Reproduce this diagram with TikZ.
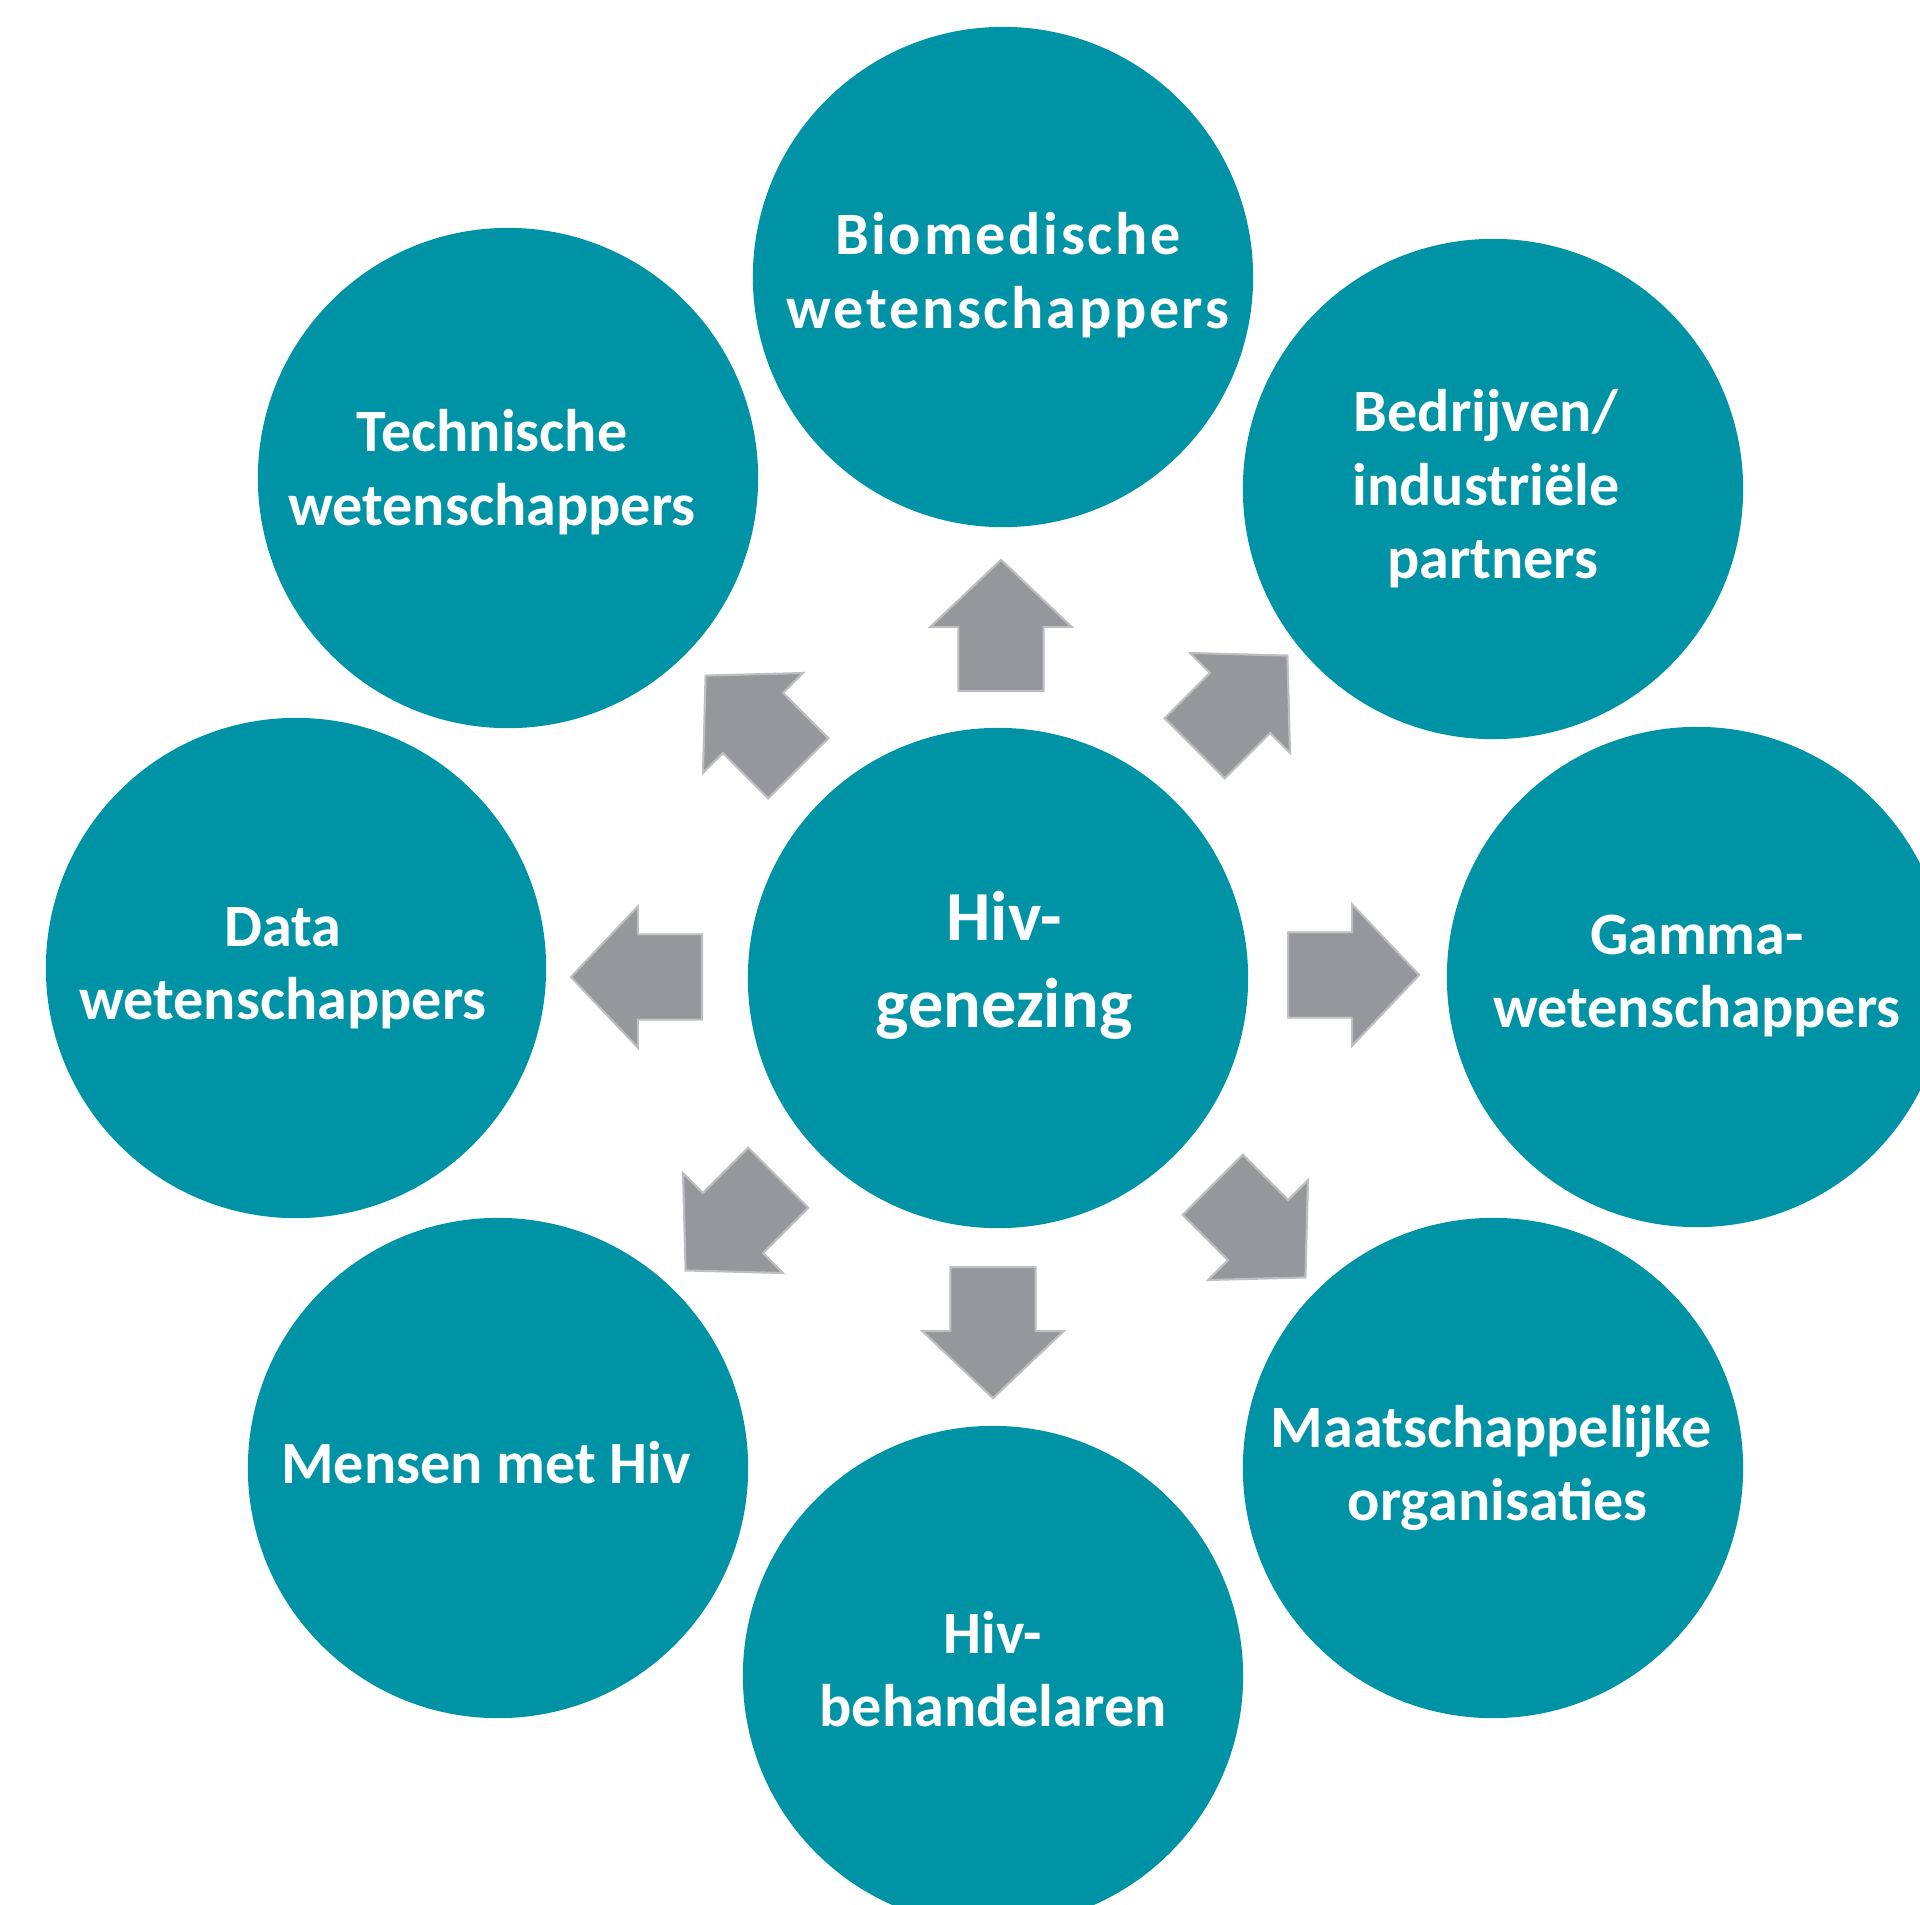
\documentclass[tikz,border=0pt]{standalone}
\usepackage{fontspec}
\setmainfont{Carlito}
\usepackage{tikz}
\usetikzlibrary{arrows.meta,calc,positioning,shapes,arrows}
\definecolor{tealgroup}{HTML}{0093A5}
\definecolor{arrowfill}{HTML}{96979B}
\definecolor{arrowedge}{HTML}{BDBEC1}

\begin{document}
\begin{tikzpicture}[
		x=0.01cm, y=-0.01cm,
		group/.style={circle, fill=tealgroup, minimum size=5cm, inner sep=0pt},
		lbl/.style={align=center, inner sep=0pt, text=white,
			font=\fontsize{17.1}{20.9}\selectfont\bfseries},
		hublbl/.style={lbl, font=\fontsize{20}{24.7}\selectfont\bfseries},
		blockarr/.style={single arrow, fill=arrowfill, draw=arrowedge, line width=0.6pt,
			minimum height=1.31cm, inner xsep=0pt, inner ysep=0.415cm,
			single arrow head extend=0.28cm, single arrow tip angle=93, anchor=tail}
		]

		\useasboundingbox (0,0) rectangle (1920,1905);
		\clip (0,0) rectangle (1920,1905);

		% --- Cirkels ---
		\node[group] (hiv) at (998, 978) {};
		\node[group] (bio) at (1003, 277) {};
		\node[group] (tech) at (508, 478) {};
		\node[group] (bedr) at (1493, 489) {};
		\node[group] (data) at (296, 968) {};
		\node[group] (gamma) at (1697, 977) {};
		\node[group] (mensen) at (498, 1468) {};
		\node[group] (maat) at (1493, 1468) {};
		\node[group] (behan) at (993, 1676) {};

		% --- Teksten ---
		\node[hublbl] (hivtxt) at ($(hiv)+(6,-13)$) {Hiv-\\genezing};
		\node[lbl] (biotxt) at ($(bio)+(5,-2)$) {\addfontfeatures{LetterSpace=4.5}Biomedische\\\addfontfeatures{LetterSpace=4.5}wetenschappers};
		\node[lbl] (techtxt) at ($(tech)+(-16,-6)$) {Technische\\wetenschappers};
		\node[lbl] (bedrtxt) at ($(bedr)+(-7,0)$) {Bedrijven/\\industriële\\\ partners};
		\node[lbl] (datatxt) at ($(data)+(-13,0)$) {Data\ \\wetenschappers};
		\node[lbl] (gammatxt) at ($(gamma)+(0,-1)$) {Gamma-\\wetenschappers};
		\node[lbl] (mensentxt) at ($(mensen)+(-12,-5)$) {Mensen met Hiv};
		\node[lbl] (maattxt) at ($(maat)+(-2,0)$) {Maatschappelijke\\\ organisaties};
		\node[lbl] (behantxt) at ($(behan)+(0,-7)$) {Hiv-\\behandelaren};

		% --- Pijlen ---
		\node[blockarr, rotate=90] (aN) at (1001, 692) {};
		\node[blockarr, rotate=45] (aNE) at (1194, 749) {};
		\node[blockarr] (aE) at (1287, 975) {};
		\node[blockarr, rotate=-45] (aSE) at (1212, 1184) {};
		\node[blockarr, rotate=-90] (aS) at (993, 1266) {};
		\node[blockarr, rotate=-135] (aSW) at (779, 1177) {};
		\node[blockarr, rotate=180] (aW) at (703, 977) {};
		\node[blockarr, rotate=135] (aNW) at (799, 769) {};

	\end{tikzpicture}
\end{document}
